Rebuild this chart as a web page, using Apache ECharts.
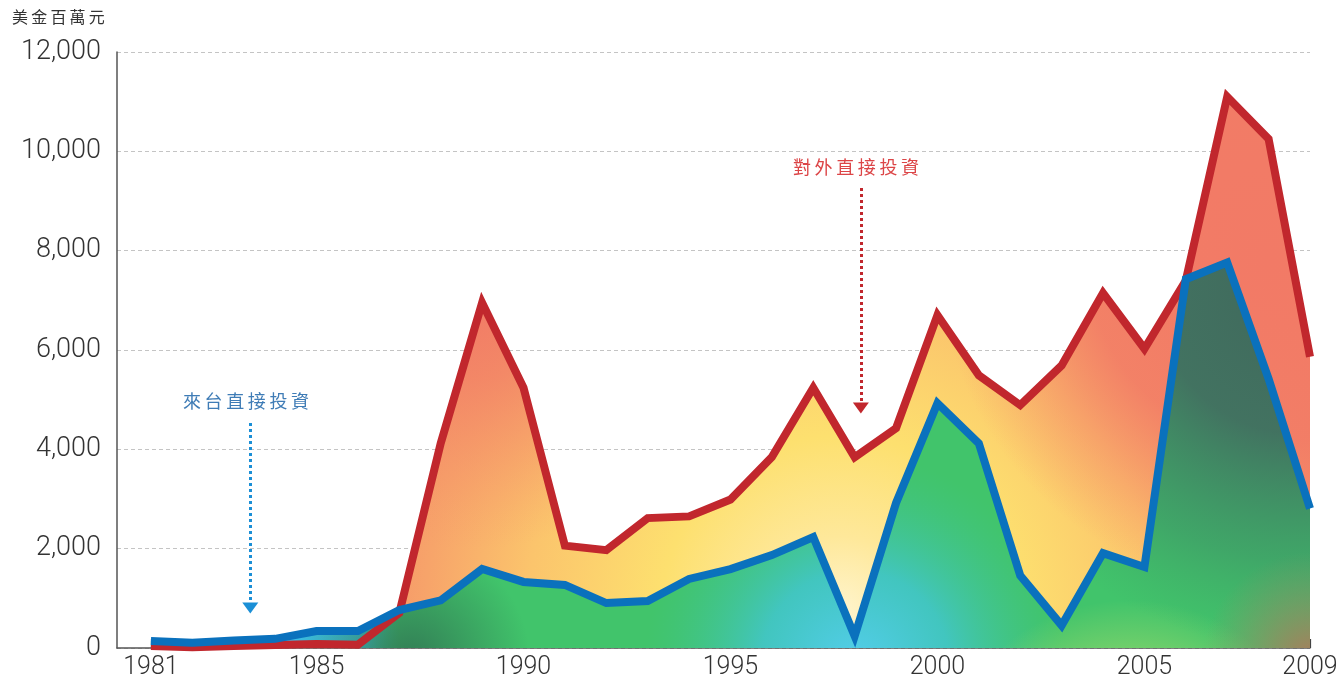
<!DOCTYPE html>
<html>
<head>
<meta charset="utf-8">
<script src="https://cdn.jsdelivr.net/npm/echarts@6/dist/echarts.min.js"></script>
<style>
  html, body { margin: 0; padding: 0; background: #fff; }
  #chart { width: 1341px; height: 681px; }
</style>
</head>
<body>
<div id="chart"></div>
<script>
const years = [1981, 1982, 1983, 1984, 1985, 1986, 1987, 1988, 1989, 1990,
  1991, 1992, 1993, 1994, 1995, 1996, 1997, 1998, 1999, 2000,
  2001, 2002, 2003, 2004, 2005, 2006, 2007, 2008, 2009];

// 對外直接投資 (US$ million)
const outward = [40, 15, 40, 60, 80, 65, 705, 4120, 6950, 5240,
  2060, 1970, 2615, 2650, 2990, 3845, 5240, 3840, 4425, 6700,
  5490, 4890, 5690, 7145, 6025, 7400, 11100, 10250, 5865];

// 來台直接投資 (US$ million)
const inward = [140, 105, 150, 185, 340, 340, 765, 960, 1590, 1330,
  1270, 905, 945, 1390, 1590, 1870, 2235, 240, 2920, 4930,
  4120, 1460, 455, 1910, 1630, 7425, 7760, 5420, 2810];

const xLabelYears = [1981, 1985, 1990, 1995, 2000, 2005, 2009];

const cjk = '"Noto Sans CJK TC", "Noto Sans CJK SC", sans-serif';
const numFont = 'Roboto, "Liberation Sans", sans-serif';

const pairs = vals => years.map((y, i) => [y, vals[i]]);

// fill-only layer, stacked visually on top of each other
function areaLayer(vals, color) {
  return {
    type: 'line',
    data: pairs(vals),
    showSymbol: false,
    symbol: 'none',
    silent: true,
    lineStyle: { width: 0, opacity: 0 },
    areaStyle: { color: color, opacity: 1 }
  };
}

function radial(x, y, r, stops) {
  return {
    type: 'radial', x: x, y: y, r: r, global: true,
    colorStops: stops.map(s => ({ offset: s[0], color: s[1] }))
  };
}

const chart = echarts.init(document.getElementById('chart'));

const option = {
  animation: false,
  grid: { left: 117, right: 31, top: 52, bottom: 33 },
  xAxis: {
    type: 'value',
    min: 1980.18,
    max: 2009,
    axisLine: { onZero: true, lineStyle: { color: '#555', width: 1.5 } },
    axisTick: {
      show: true, inside: true, length: 9,
      customValues: years,
      lineStyle: { color: '#444', width: 1.2 }
    },
    axisLabel: {
      customValues: xLabelYears,
      margin: 7,
      fontSize: 25,
      fontFamily: numFont,
      fontWeight: 300,
      color: '#333',
      formatter: v => String(v)
    },
    splitLine: { show: false }
  },
  yAxis: {
    type: 'value',
    min: 0,
    max: 12000,
    interval: 2000,
    axisLine: { show: true, lineStyle: { color: '#555', width: 1.5 } },
    axisTick: { show: false },
    axisLabel: {
      margin: 16,
      fontSize: 27,
      fontFamily: numFont,
      fontWeight: 300,
      color: '#333',
      formatter: v => v.toLocaleString('en-US')
    },
    splitLine: { show: true, lineStyle: { color: '#c4c4c4', type: [4, 3], width: 1 } }
  },
  series: [
    // red fill
    areaLayer(outward, radial(840, 615, 560, [
      [0, '#fff5cf'], [0.14, '#fee89a'], [0.32, '#fde06f'],
      [0.56, '#fbc46c'], [0.74, '#f7a46a'], [0.9, '#f48867'], [1, '#f27a66']
    ])),
    // salmon toward the 1989 peak
    areaLayer(outward, radial(470, 290, 260, [
      [0, 'rgba(241,122,102,1)'], [0.35, 'rgba(242,128,102,0.75)'], [1, 'rgba(245,150,104,0)']
    ])),
    // salmon toward 2006-2009
    areaLayer(outward, radial(1270, 260, 330, [
      [0, 'rgba(242,122,102,1)'], [0.55, 'rgba(242,124,102,0.9)'], [1, 'rgba(244,136,103,0)']
    ])),
    // blue fill: base
    areaLayer(inward, '#41c46b'),
    // cyan glow around 1998 bottom
    areaLayer(inward, radial(855, 665, 210, [
      [0, 'rgba(84,206,236,1)'], [0.45, 'rgba(66,198,212,0.8)'], [1, 'rgba(65,196,140,0)']
    ])),
    // cyan at the very left
    areaLayer(inward, radial(270, 645, 130, [
      [0, 'rgba(60,192,236,1)'], [0.75, 'rgba(60,192,236,0.95)'], [1, 'rgba(60,192,236,0)']
    ])),
    // dark green near 1987
    areaLayer(inward, radial(410, 660, 120, [
      [0, 'rgba(50,125,85,1)'], [1, 'rgba(50,125,85,0)']
    ])),
    // light green at the bottom right
    areaLayer(inward, radial(1130, 800, 200, [
      [0, 'rgba(160,220,110,1)'], [0.6, 'rgba(150,216,106,0.9)'], [1, 'rgba(150,216,106,0)']
    ])),
    // dark teal at the top right
    areaLayer(inward, radial(1300, 290, 360, [
      [0, 'rgba(64,104,92,1)'], [0.4, 'rgba(66,110,96,0.95)'], [0.75, 'rgba(62,130,100,0.45)'], [1, 'rgba(62,150,100,0)']
    ])),
    // brownish corner at 2009 bottom
    areaLayer(inward, radial(1312, 662, 110, [
      [0, 'rgba(175,120,90,1)'], [1, 'rgba(150,140,100,0)']
    ])),
    // red line
    {
      type: 'line',
      name: '對外直接投資',
      data: pairs(outward),
      showSymbol: false,
      symbol: 'none',
      lineStyle: { color: '#c1272d', width: 8, join: 'miter', cap: 'butt' },
      markLine: {
        silent: true,
        symbol: ['none', 'triangle'],
        symbolSize: [16, 11],
        label: { show: false },
        lineStyle: { color: '#c1272d', width: 3, type: [3, 3] },
        data: [[{ coord: [1998.15, 9260] }, { coord: [1998.15, 4830] }]]
      }
    },
    // blue line
    {
      type: 'line',
      name: '來台直接投資',
      data: pairs(inward),
      showSymbol: false,
      symbol: 'none',
      lineStyle: { color: '#0a71bd', width: 8, join: 'miter', cap: 'butt' },
      markLine: {
        silent: true,
        symbol: ['none', 'triangle'],
        symbolSize: [16, 11],
        label: { show: false },
        lineStyle: { color: '#1b8fd6', width: 3, type: [3, 3] },
        data: [[{ coord: [1983.4, 4530] }, { coord: [1983.4, 805] }]]
      }
    }
  ],
  graphic: [
    {
      type: 'text', left: 12, top: 9,
      style: { text: '美\u2009金\u2009百\u2009萬\u2009元', fontSize: 16, fontFamily: cjk, fill: '#333' }
    },
    {
      type: 'text', x: 246, y: 401,
      style: {
        text: '來\u2009台\u2009直\u2009接\u2009投\u2009資', fontSize: 18, fontFamily: cjk,
        fill: '#3f7cb6', align: 'center', verticalAlign: 'middle'
      }
    },
    {
      type: 'text', x: 856, y: 167,
      style: {
        text: '對\u2009外\u2009直\u2009接\u2009投\u2009資', fontSize: 18, fontFamily: cjk,
        fill: '#dc4547', align: 'center', verticalAlign: 'middle'
      }
    }
  ]
};

chart.setOption(option);
window.addEventListener('resize', chart.resize);
</script>
</body>
</html>
